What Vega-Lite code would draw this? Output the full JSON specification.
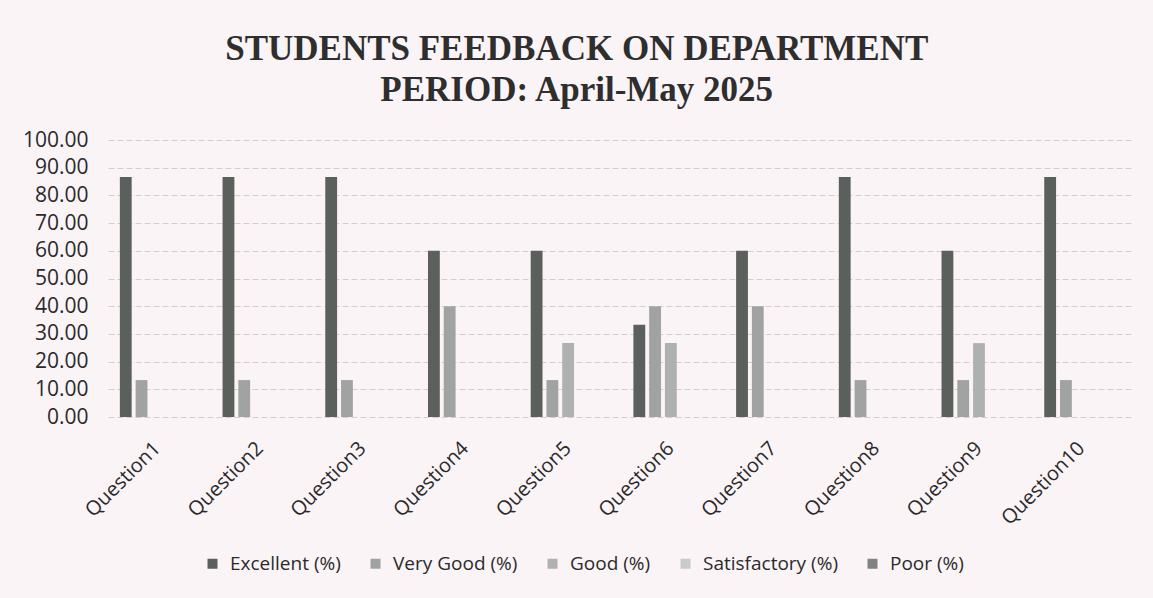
{
  "$schema": "https://vega.github.io/schema/vega-lite/v6.json",
  "autosize": "none",
  "width": 1023,
  "height": 277,
  "padding": {"left": 108, "top": 140, "right": 22, "bottom": 181},
  "background": "#fbf4f7",
  "title": {
    "text": ["STUDENTS FEEDBACK ON DEPARTMENT", "PERIOD: April-May 2025"],
    "font": "Liberation Serif",
    "fontSize": 35,
    "fontWeight": "bold",
    "color": "#2e2e2e",
    "lineHeight": 41,
    "anchor": "middle",
    "frame": "bounds",
    "offset": 21
  },
  "config": {
    "view": {"stroke": null},
    "axis": {"labelFont": "Open Sans", "labelColor": "#2a2a2a", "titleFont": "Open Sans"},
    "legend": {"labelFont": "Open Sans"}
  },
  "data": {
    "values": [
      {"question": "Question1", "rating": "Excellent (%)", "value": 86.67},
      {"question": "Question1", "rating": "Very Good (%)", "value": 13.33},
      {"question": "Question1", "rating": "Good (%)", "value": 0},
      {"question": "Question1", "rating": "Satisfactory (%)", "value": 0},
      {"question": "Question1", "rating": "Poor (%)", "value": 0},
      {"question": "Question2", "rating": "Excellent (%)", "value": 86.67},
      {"question": "Question2", "rating": "Very Good (%)", "value": 13.33},
      {"question": "Question2", "rating": "Good (%)", "value": 0},
      {"question": "Question2", "rating": "Satisfactory (%)", "value": 0},
      {"question": "Question2", "rating": "Poor (%)", "value": 0},
      {"question": "Question3", "rating": "Excellent (%)", "value": 86.67},
      {"question": "Question3", "rating": "Very Good (%)", "value": 13.33},
      {"question": "Question3", "rating": "Good (%)", "value": 0},
      {"question": "Question3", "rating": "Satisfactory (%)", "value": 0},
      {"question": "Question3", "rating": "Poor (%)", "value": 0},
      {"question": "Question4", "rating": "Excellent (%)", "value": 60.0},
      {"question": "Question4", "rating": "Very Good (%)", "value": 40.0},
      {"question": "Question4", "rating": "Good (%)", "value": 0},
      {"question": "Question4", "rating": "Satisfactory (%)", "value": 0},
      {"question": "Question4", "rating": "Poor (%)", "value": 0},
      {"question": "Question5", "rating": "Excellent (%)", "value": 60.0},
      {"question": "Question5", "rating": "Very Good (%)", "value": 13.33},
      {"question": "Question5", "rating": "Good (%)", "value": 26.67},
      {"question": "Question5", "rating": "Satisfactory (%)", "value": 0},
      {"question": "Question5", "rating": "Poor (%)", "value": 0},
      {"question": "Question6", "rating": "Excellent (%)", "value": 33.33},
      {"question": "Question6", "rating": "Very Good (%)", "value": 40.0},
      {"question": "Question6", "rating": "Good (%)", "value": 26.67},
      {"question": "Question6", "rating": "Satisfactory (%)", "value": 0},
      {"question": "Question6", "rating": "Poor (%)", "value": 0},
      {"question": "Question7", "rating": "Excellent (%)", "value": 60.0},
      {"question": "Question7", "rating": "Very Good (%)", "value": 40.0},
      {"question": "Question7", "rating": "Good (%)", "value": 0},
      {"question": "Question7", "rating": "Satisfactory (%)", "value": 0},
      {"question": "Question7", "rating": "Poor (%)", "value": 0},
      {"question": "Question8", "rating": "Excellent (%)", "value": 86.67},
      {"question": "Question8", "rating": "Very Good (%)", "value": 13.33},
      {"question": "Question8", "rating": "Good (%)", "value": 0},
      {"question": "Question8", "rating": "Satisfactory (%)", "value": 0},
      {"question": "Question8", "rating": "Poor (%)", "value": 0},
      {"question": "Question9", "rating": "Excellent (%)", "value": 60.0},
      {"question": "Question9", "rating": "Very Good (%)", "value": 13.33},
      {"question": "Question9", "rating": "Good (%)", "value": 26.67},
      {"question": "Question9", "rating": "Satisfactory (%)", "value": 0},
      {"question": "Question9", "rating": "Poor (%)", "value": 0},
      {"question": "Question10", "rating": "Excellent (%)", "value": 86.67},
      {"question": "Question10", "rating": "Very Good (%)", "value": 13.33},
      {"question": "Question10", "rating": "Good (%)", "value": 0},
      {"question": "Question10", "rating": "Satisfactory (%)", "value": 0},
      {"question": "Question10", "rating": "Poor (%)", "value": 0}
    ]
  },
  "mark": {"type": "bar"},
  "encoding": {
    "x": {
      "field": "question",
      "type": "nominal",
      "sort": ["Question1", "Question2", "Question3", "Question4", "Question5", "Question6", "Question7", "Question8", "Question9", "Question10"],
      "scale": {"paddingInner": 0.24, "paddingOuter": 0.1},
      "axis": {
        "title": null,
        "labelAngle": -45,
        "labelAlign": "right",
        "labelBaseline": "middle",
        "labelFontSize": 20,
        "labelPadding": 28,
        "ticks": false,
        "domain": false,
        "grid": false
      }
    },
    "xOffset": {
      "field": "rating",
      "type": "nominal",
      "sort": ["Excellent (%)", "Very Good (%)", "Good (%)", "Satisfactory (%)", "Poor (%)"],
      "scale": {"paddingInner": 0.25, "paddingOuter": 0.1}
    },
    "y": {
      "field": "value",
      "type": "quantitative",
      "scale": {"domain": [0, 100]},
      "axis": {
        "title": null,
        "values": [0, 10, 20, 30, 40, 50, 60, 70, 80, 90, 100],
        "format": ".2f",
        "labelFontSize": 21,
        "labelPadding": 20,
        "ticks": false,
        "domain": false,
        "grid": true,
        "gridColor": "#d3cfd1",
        "gridWidth": 1,
        "gridDash": [6, 3]
      }
    },
    "color": {
      "field": "rating",
      "type": "nominal",
      "sort": ["Excellent (%)", "Very Good (%)", "Good (%)", "Satisfactory (%)", "Poor (%)"],
      "scale": {
        "domain": ["Excellent (%)", "Very Good (%)", "Good (%)", "Satisfactory (%)", "Poor (%)"],
        "range": ["#5b605d", "#a0a3a2", "#aeb1af", "#c9cbca", "#808382"]
      },
      "legend": {
        "title": null,
        "orient": "none",
        "direction": "horizontal",
        "legendX": 95,
        "legendY": 414,
        "symbolType": "square",
        "symbolSize": 100,
        "symbolStrokeWidth": 0,
        "labelFontSize": 19,
        "labelColor": "#2a2a2a",
        "labelOffset": 8,
        "columnPadding": 25,
        "labelLimit": 300
      }
    }
  }
}
